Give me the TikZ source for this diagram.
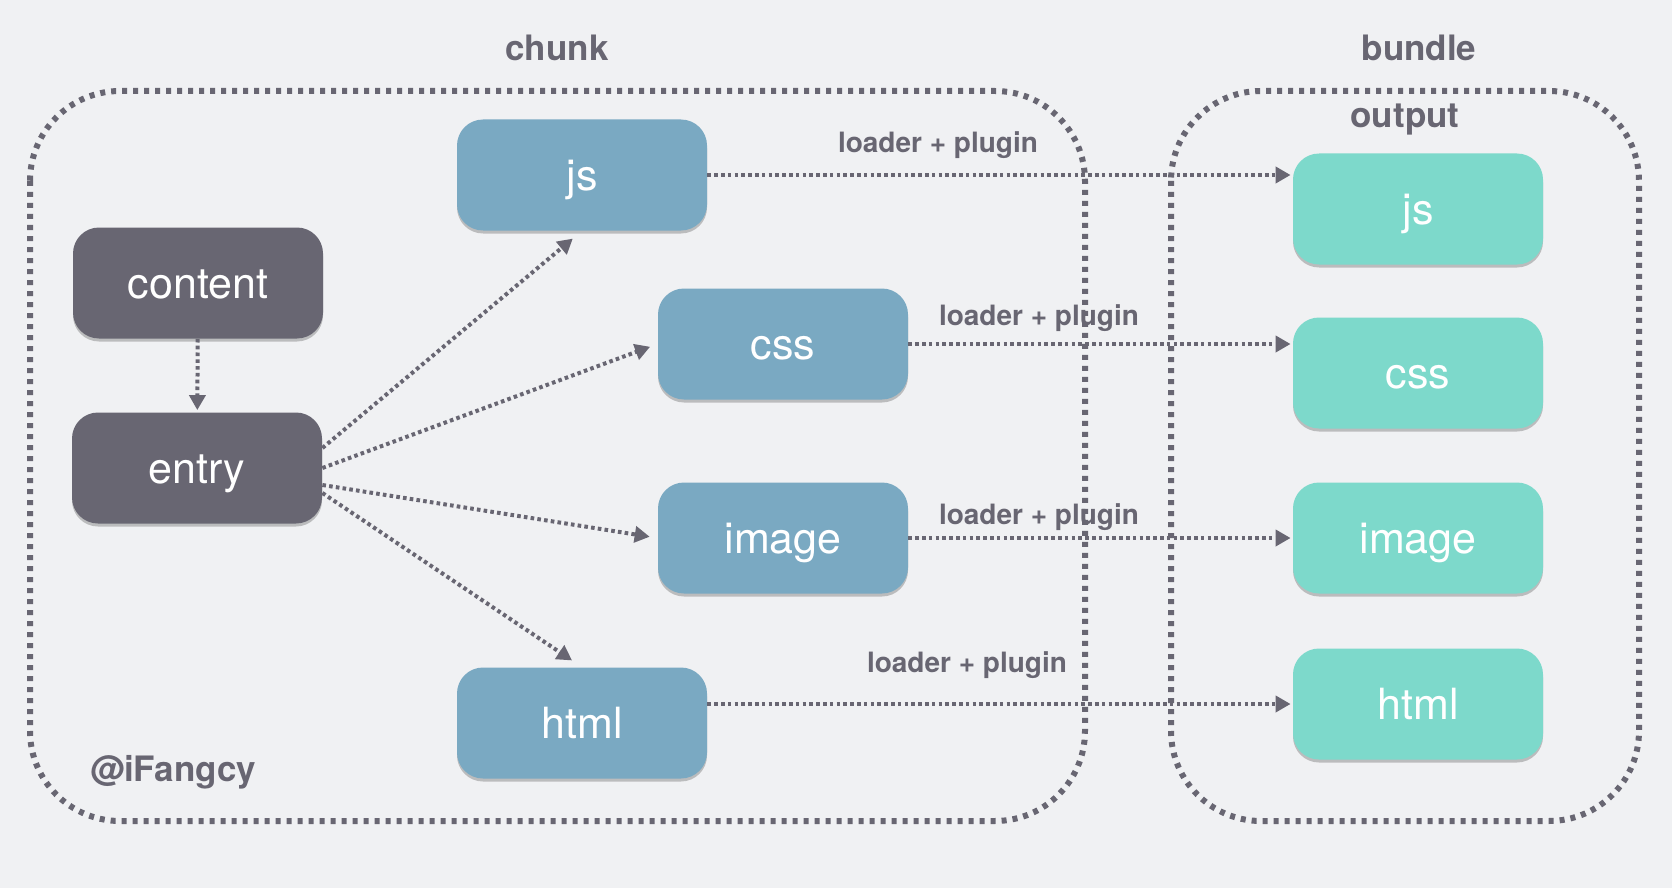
\documentclass[tikz,border=0pt]{standalone}
\usepackage{fontspec}
\setmainfont{TeX Gyre Heros}
\usetikzlibrary{arrows.meta,shadows}

\definecolor{bgc}{HTML}{F0F1F3}
\definecolor{darkc}{HTML}{686672}
\definecolor{chunkc}{HTML}{7AA9C2}
\definecolor{outc}{HTML}{7DD9CB}

\tikzset{
  srcbox/.style={rounded corners=13pt,minimum width=125pt,minimum height=55.5pt,inner sep=0pt,
    text height=15.5pt,text depth=0pt,
    fill=darkc,text=white,font=\fontsize{21.5}{24}\selectfont,
    drop shadow={shadow xshift=0pt,shadow yshift=-1.5pt,opacity=0.22,fill=black}},
  chunkbox/.style={srcbox,fill=chunkc},
  outbox/.style={srcbox,fill=outc},
  flow/.style={draw=darkc,line width=2pt,dash pattern=on 1.8pt off 1.6pt,-{Triangle[length=7.5pt,width=8pt]}},
  group/.style={draw=darkc,line width=3pt,dash pattern=on 2.5pt off 3pt,rounded corners=45pt},
  lbl/.style={text=darkc,font=\bfseries\fontsize{14}{16}\selectfont},
  title/.style={text=darkc,font=\bfseries\fontsize{17.5}{20}\selectfont}
}

\begin{document}
\begin{tikzpicture}[x=0.5pt,y=-0.5pt]
		\fill[bgc] (0,0) rectangle (1672,888);
		\useasboundingbox (0,0) rectangle (1672,888);

		\draw[group] (30,91) rectangle (1085,821);
		\draw[group] (1171,91) rectangle (1639,821);

		\node[title] (chunk) at (557,48) {chunk};
		\node[title] (bundle) at (1419,48) {bundle};
		\node[title] (output) at (1405,120) {output};
		\node[title] (author) at (173,772) {@iFangcy};

		\node[srcbox] (content) at (198,283) {content};
		\node[srcbox] (entry) at (197,468) {entry};

		\node[chunkbox] (cjs) at (582,175) {js};
		\node[chunkbox] (ccss) at (783,344) {css};
		\node[chunkbox] (cimg) at (783,538) {image};
		\node[chunkbox] (chtml) at (582,723) {html};

		\node[outbox] (ojs) at (1418,209) {js};
		\node[outbox] (ocss) at (1418,373) {css};
		\node[outbox] (oimg) at (1418,538) {image};
		\node[outbox] (ohtml) at (1418,704) {html};

		\draw[flow,shorten >=1pt] (content) -- (entry);

		\draw[flow,shorten >=6pt] ([yshift=10pt]entry.east) -- (cjs.south);
		\draw[flow,shorten >=4pt] (entry.east) -- (ccss.west);
		\draw[flow,shorten >=4pt] ([yshift=-8.5pt]entry.east) -- (cimg.west);
		\draw[flow,shorten >=6pt] ([yshift=-12.5pt]entry.east) -- (chtml.north);

		\draw[flow,shorten >=1pt] (cjs.east) -- (cjs.east -| ojs.west);
		\draw[flow,shorten >=1pt] (ccss.east) -- (ccss.east -| ocss.west);
		\draw[flow,shorten >=1pt] (cimg.east) -- (oimg.west);
		\draw[flow,shorten >=1pt] (ohtml.west -| chtml.east) -- (ohtml.west);

		\node[lbl] (l1) at (938,145) {loader + plugin};
		\node[lbl] (l2) at (1039,318) {loader + plugin};
		\node[lbl] (l3) at (1039,517) {loader + plugin};
		\node[lbl] (l4) at (967,665) {loader + plugin};
\end{tikzpicture}
\end{document}
